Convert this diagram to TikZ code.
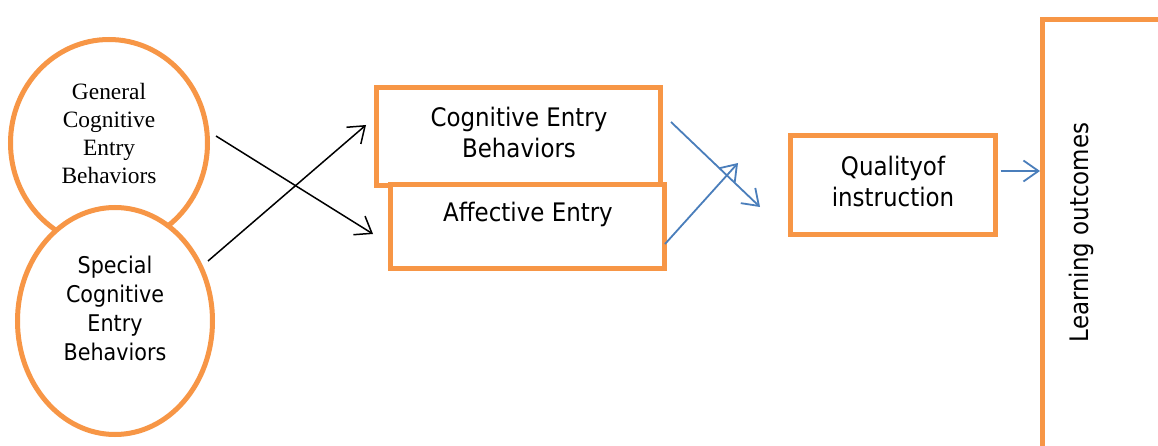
\documentclass[tikz,border=0pt]{standalone}
\usepackage{fontspec}
\newfontfamily\tah{DejaVu Sans}[FakeStretch=0.9]
\newfontfamily\tms{Liberation Serif}
\usetikzlibrary{shapes.geometric,arrows.meta}
\definecolor{orng}{HTML}{F79646}
\definecolor{blu}{HTML}{4A7EBB}
\tikzset{
 obox/.style={draw=orng, line width=5pt, fill=white, inner sep=0pt},
 oell/.style={obox, ellipse},
 txt/.style={align=center, inner sep=0pt},
 sanstxt/.style={txt, font=\tah\fontsize{25.5}{31}\selectfont},
 blkarr/.style={draw=black, line width=1.5pt, -{Straight Barb[length=15pt,width=22pt]}},
 bluarr/.style={draw=blu, line width=1.8pt, -{Straight Barb[length=15pt,width=21pt]}}
}
\begin{document}
\begin{tikzpicture}[x=1pt,y=-1pt]
\useasboundingbox[fill=white] (0,0) rectangle (1158,446);
% ellipses
\node[oell, minimum width=197pt, minimum height=207pt] (gen) at (109,143) {};
\node[oell, minimum width=195pt, minimum height=227pt] (spe) at (115,321) {};
\node[txt, font=\tms\fontsize{23.4}{27.7}\selectfont] (gent) at (109,133.5) {General\\Cognitive\\Entry\\Behaviors};
\node[txt, font=\tah\fontsize{23}{29}\selectfont] (spet) at (115,308) {Special\\Cognitive\\Entry\\Behaviors};
% boxes
\node[obox, minimum width=284pt, minimum height=98.5pt] (cog) at (518.5,136.75) {};
\node[sanstxt] (cogt) at (519,132.8) {Cognitive Entry\\Behaviors};
\node[obox, minimum width=274pt, minimum height=84pt] (aff) at (527.5,226.5) {};
\node[sanstxt, anchor=base] (afft) at (528,222) {Affective Entry};
\node[obox, minimum width=205pt, minimum height=99pt] (qual) at (893,185) {};
\node[sanstxt] (qualt) at (893,181.3) {Qualityof\\instruction};
\node[obox, minimum width=400pt, minimum height=600pt, anchor=north west] (lo) at (1040,17) {};
\node[sanstxt, rotate=90, anchor=base] (lot) at (1088,232.5) {Learning outcomes};
% connectors
\coordinate (g1) at (216,136); \coordinate (g2) at (373,234);
\draw[blkarr] (g1) -- (g2);
\coordinate (s1) at (208,261); \coordinate (s2) at (366,125);
\draw[blkarr] (s1) -- (s2);
\coordinate (c1) at (671,122); \coordinate (c2) at (760,207);
\draw[bluarr] (c1) -- (c2);
\coordinate (a1) at (665,244); \coordinate (a2) at (738,163);
\draw[bluarr] (a1) -- (a2);
\coordinate (q1) at ([yshift=14pt,xshift=2.5pt]qual.east);
\draw[bluarr] (q1) -- (q1 -| lo.west);
\end{tikzpicture}
\end{document}
